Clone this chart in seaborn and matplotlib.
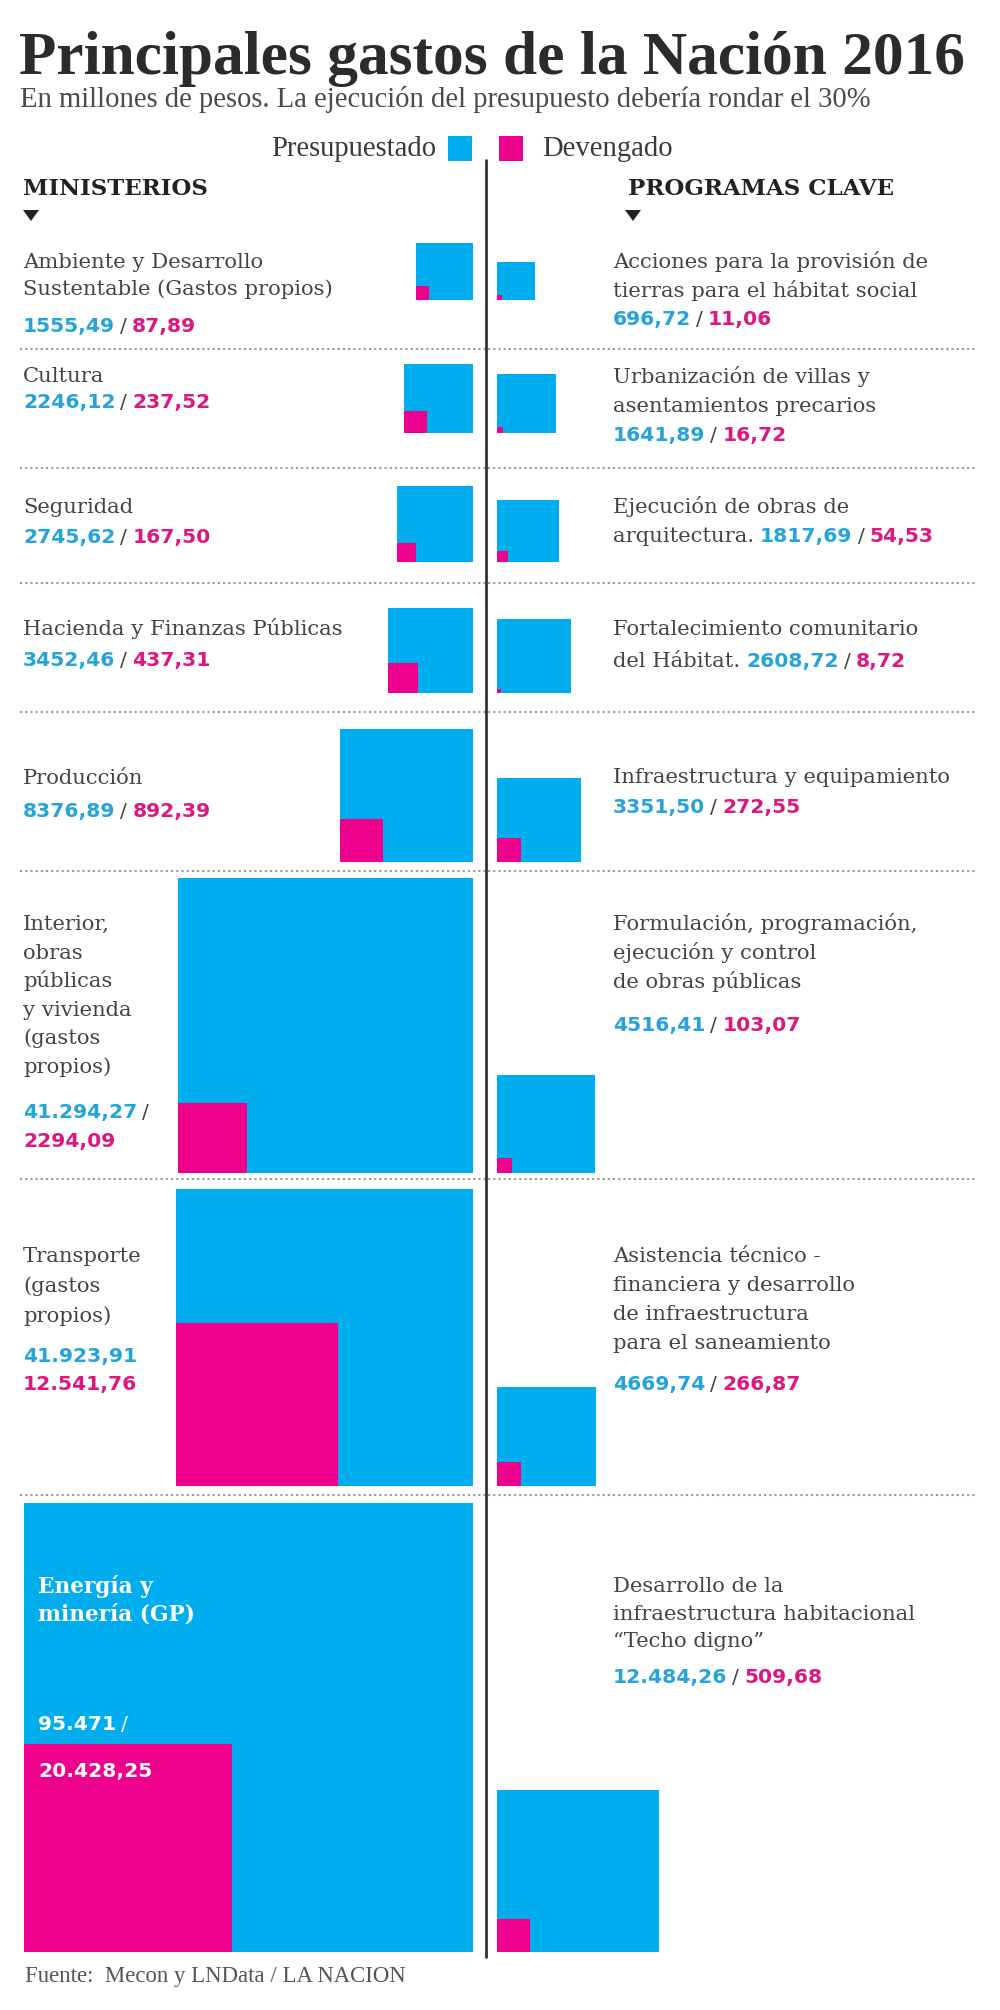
import numpy as np
import matplotlib.pyplot as plt
import seaborn as sns

# --- data (millones de pesos) ---
ministerios = [
    "Ambiente y Desarrollo\nSustentable (Gastos propios)",
    "Cultura",
    "Seguridad",
    "Hacienda y Finanzas Públicas",
    "Producción",
    "Interior,\nobras\npúblicas\ny vivienda\n(gastos\npropios)",
    "Transporte\n(gastos\npropios)",
    "Energía y\nminería (GP)",
]
min_presupuestado = [1555.49, 2246.12, 2745.62, 3452.46, 8376.89, 41294.27, 41923.91, 95471]
min_devengado = [87.89, 237.52, 167.50, 437.31, 892.39, 2294.09, 12541.76, 20428.25]

programas = [
    "Acciones para la provisión de\ntierras para el hábitat social",
    "Urbanización de villas y\nasentamientos precarios",
    "Ejecución de obras de\narquitectura.",
    "Fortalecimiento comunitario\ndel Hábitat.",
    "Infraestructura y equipamiento",
    "Formulación, programación,\nejecución y control\nde obras públicas",
    "Asistencia técnico -\nfinanciera y desarrollo\nde infraestructura\npara el saneamiento",
    "Desarrollo de la\ninfraestructura habitacional\n\u201cTecho digno\u201d",
]
prog_presupuestado = [696.72, 1641.89, 1817.69, 2608.72, 3351.50, 4516.41, 4669.74, 12484.26]
prog_devengado = [11.06, 16.72, 54.53, 8.72, 272.55, 103.07, 266.87, 509.68]

BLUE, PINK = sns.color_palette(["#00aeef", "#ec008c"])
TXT_BLUE, TXT_PINK = "#25a4da", "#dc1780"
GRAY = "#444444"


def fmt(v):
    if float(v).is_integer():
        s = f"{v:,.0f}"
    elif v >= 10000:
        s = f"{v:,.2f}"
    else:
        s = f"{v:.2f}"
    return s.replace(",", "_").replace(".", ",").replace("_", ".")


sns.set_theme(style="white")
plt.rcParams["font.family"] = ["DejaVu Serif", "DejaVu Sans"]

W, H = 1000, 2010
fig = plt.figure(figsize=(W / 100, H / 100), dpi=100)
ax = fig.add_axes([0, 0, 1, 1])
ax.set_xlim(0, W)
ax.set_ylim(H, 0)
ax.axis("off")
renderer = fig.canvas.get_renderer()

# squares: area proportional to the amount
px_per_unit = 1.452
row_bottom = np.array([300, 433, 562, 693, 862, 1173, 1486, 1952])
left_anchor, right_anchor = 473, 497

sp = px_per_unit * np.sqrt(min_presupuestado)
sd = px_per_unit * np.sqrt(min_devengado)
ax.bar(left_anchor - sp, sp, width=sp, bottom=row_bottom - sp, align="edge", color=BLUE, linewidth=0)
ax.bar(left_anchor - sp, sd, width=sd, bottom=row_bottom - sd, align="edge", color=PINK, linewidth=0)

pp = px_per_unit * np.sqrt(prog_presupuestado)
pd_ = px_per_unit * np.sqrt(prog_devengado)
ax.bar(np.full(8, right_anchor), pp, width=pp, bottom=row_bottom - pp, align="edge", color=BLUE, linewidth=0)
ax.bar(np.full(8, right_anchor), pd_, width=pd_, bottom=row_bottom - pd_, align="edge", color=PINK, linewidth=0)

# separators and divider
for y in [349, 468, 583, 712, 871, 1179, 1495]:
    ax.plot([20, 486], [y, y], ls=(0, (1, 1.5)), lw=1.5, color="#999999")
    ax.plot([488, 975], [y, y], ls=(0, (1, 1.5)), lw=1.5, color="#999999")
ax.plot([486, 486], [160, 1957], color="#333333", lw=2)


def runs(x, y, parts, size, gap=5):
    # parts: (text, color, weight, family)
    for s, color, weight, fam in parts:
        t = ax.text(x, y, s, color=color, fontsize=size, fontweight=weight,
                    family=fam, va="baseline", ha="left")
        x += t.get_window_extent(renderer).width + gap
    return x


def fit(t, target):
    w = t.get_window_extent(renderer).width
    t.set_fontsize(t.get_fontsize() * target / w)


LAB = 15.2
VAL = 14.6
NUM = ["DejaVu Sans"]


def draw_item(x, label, pre, dev, y0, gap, mode, vy, color=GRAY, cpre=TXT_BLUE, cdev=TXT_PINK,
              weight="normal", slash=GRAY, size=LAB):
    lines = label.split("\n")
    for i, ln in enumerate(lines):
        yy = y0 + i * gap
        if mode == "inline" and i == len(lines) - 1:
            xe = runs(x, yy, [(ln, color, weight, ["DejaVu Serif"])], size, gap=6)
            runs(xe, yy, [(fmt(pre), cpre, "bold", NUM), ("/", slash, "normal", NUM),
                          (fmt(dev), cdev, "bold", NUM)], VAL)
        else:
            ax.text(x, yy, ln, color=color, fontsize=size, fontweight=weight, va="baseline")
    if mode == "line":
        runs(x, vy, [(fmt(pre), cpre, "bold", NUM), ("/", slash, "normal", NUM),
                     (fmt(dev), cdev, "bold", NUM)], VAL)
    elif mode == "split":
        runs(x, vy, [(fmt(pre), cpre, "bold", NUM), ("/", slash, "normal", NUM)], VAL)
        runs(x, vy + (47 if weight == "bold" else 29), [(fmt(dev), cdev, "bold", NUM)], VAL)
    elif mode == "stack":
        runs(x, vy, [(fmt(pre), cpre, "bold", NUM)], VAL)
        runs(x, vy + 28, [(fmt(dev), cdev, "bold", NUM)], VAL)


left_layout = [(268, 27, "line", 332), (382, 28, "line", 408), (513, 28, "line", 543),
               (635, 28, "line", 666), (784, 28, "line", 817), (930, 28.6, "split", 1118),
               (1262, 30, "stack", 1362)]
for i, (y0, g, mode, vy) in enumerate(left_layout):
    draw_item(23, ministerios[i], min_presupuestado[i], min_devengado[i], y0, g, mode, vy)
draw_item(38, ministerios[7], min_presupuestado[7], min_devengado[7], 1593, 27, "split", 1730,
          color="white", cpre="white", cdev="white", weight="bold", slash="white", size=15.6)

right_layout = [(268, 29, "line", 325), (383, 29, "line", 441), (513, 29, "inline", 0),
                (635, 32, "inline", 0), (783, 29, "line", 813), (930, 29, "line", 1031),
                (1262, 29, "line", 1390), (1592, 27.5, "line", 1683)]
for i, (y0, g, mode, vy) in enumerate(right_layout):
    draw_item(613, programas[i], prog_presupuestado[i], prog_devengado[i], y0, g, mode, vy)

# header
t = ax.text(19, 74, "Principales gastos de la Nación 2016", family=["Liberation Serif"],
            fontweight="bold", fontsize=40, color="#2b2b2b", va="baseline")
fit(t, 946)
t = ax.text(20, 107, "En millones de pesos. La ejecución del presupuesto debería rondar el 30%",
            family=["Liberation Serif"], fontsize=16, color="#4a4a4a", va="baseline")
fit(t, 850)
sub_size = t.get_fontsize()
ax.text(436, 156, "Presupuestado", family=["Liberation Serif"], fontsize=sub_size,
        color="#3a3a3a", va="baseline", ha="right")
ax.text(542, 156, "Devengado", family=["Liberation Serif"], fontsize=sub_size,
        color="#3a3a3a", va="baseline", ha="left")
ax.add_patch(plt.Rectangle((448, 136), 24, 25, color=BLUE, lw=0))
ax.add_patch(plt.Rectangle((499, 136), 24, 25, color=PINK, lw=0))

ax.text(23, 195, "MINISTERIOS", fontsize=16.5, fontweight="bold", color="#222222", va="baseline")
ax.text(628, 195, "PROGRAMAS CLAVE", fontsize=16.5, fontweight="bold", color="#222222", va="baseline")
ax.fill([23, 39, 31], [210, 210, 221], color="#222222", lw=0)
ax.fill([625, 641, 633], [210, 210, 221], color="#222222", lw=0)

t = ax.text(25, 1982, "Fuente:  Mecon y LNData / LA NACION", family=["Liberation Serif"],
            fontsize=14, color="#555555", va="baseline")
fit(t, 382)

fig.savefig("out.png", dpi=100, facecolor="white")
